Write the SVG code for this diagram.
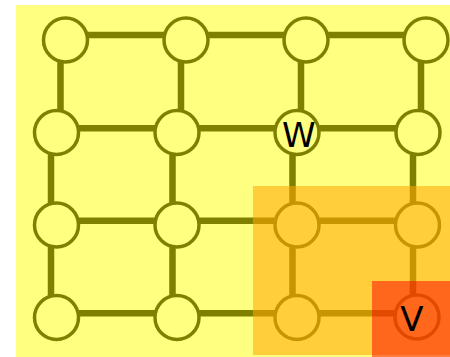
<svg xmlns="http://www.w3.org/2000/svg" width="450" height="357" viewBox="0 0 450 357">
<style>
.edge{stroke:#808000;stroke-width:6.5;fill:none}
.node circle{fill:#FFFF80;stroke:#808000;stroke-width:3.5}
.lbl{font-family:"DejaVu Sans",sans-serif;font-size:34px;fill:#000;text-anchor:middle}
</style>
<rect x="16" y="5" width="434" height="352" fill="#FFFF80"/>
<g id="connectors">
<line class="edge" x1="65" y1="35" x2="426" y2="35"/>
<line class="edge" x1="56" y1="128.3" x2="418" y2="128.3"/>
<line class="edge" x1="56" y1="220.7" x2="417" y2="220.7"/>
<line class="edge" x1="56" y1="313.3" x2="417" y2="313.3"/>
<line class="edge" x1="60.5" y1="35" x2="60.5" y2="128"/>
<line class="edge" x1="181" y1="35" x2="181" y2="128"/>
<line class="edge" x1="301" y1="35" x2="301" y2="128"/>
<line class="edge" x1="421" y1="35" x2="421" y2="128"/>
<line class="edge" x1="51" y1="128" x2="51" y2="313"/>
<line class="edge" x1="172.5" y1="128" x2="172.5" y2="313"/>
<line class="edge" x1="292.5" y1="128" x2="292.5" y2="313"/>
<line class="edge" x1="413" y1="128" x2="413" y2="313"/>
</g>
<g id="n11" class="node"><circle cx="65.5" cy="40" r="22"/></g>
<g id="n12" class="node"><circle cx="186" cy="40" r="22"/></g>
<g id="n13" class="node"><circle cx="306" cy="40" r="22"/></g>
<g id="n14" class="node"><circle cx="426" cy="40" r="22"/></g>
<g id="n21" class="node"><circle cx="56.5" cy="132.5" r="22"/></g>
<g id="n22" class="node"><circle cx="177" cy="132.5" r="22"/></g>
<g id="W" class="node"><circle cx="297" cy="132.5" r="22"/><text class="lbl" x="298.7" y="147">W</text></g>
<g id="n24" class="node"><circle cx="418" cy="132.5" r="22"/></g>
<g id="n31" class="node"><circle cx="56.5" cy="225" r="22"/></g>
<g id="n32" class="node"><circle cx="177" cy="225" r="22"/></g>
<g id="n33" class="node"><circle cx="297" cy="225" r="22"/></g>
<g id="n34" class="node"><circle cx="417.5" cy="225" r="22"/></g>
<g id="n41" class="node"><circle cx="56.5" cy="317.5" r="22"/></g>
<g id="n42" class="node"><circle cx="177" cy="317.5" r="22"/></g>
<g id="n43" class="node"><circle cx="297" cy="317.5" r="22"/></g>
<g id="V" class="node"><circle cx="417" cy="317" r="22"/></g>
<g id="regions">
<rect x="253" y="186" width="197" height="169" fill="#FFA500" fill-opacity="0.55"/>
<rect x="372" y="281" width="78" height="76" fill="#FF0000" fill-opacity="0.5"/>
</g>
<g id="V-label"><text class="lbl" x="412" y="331">V</text></g>
</svg>
